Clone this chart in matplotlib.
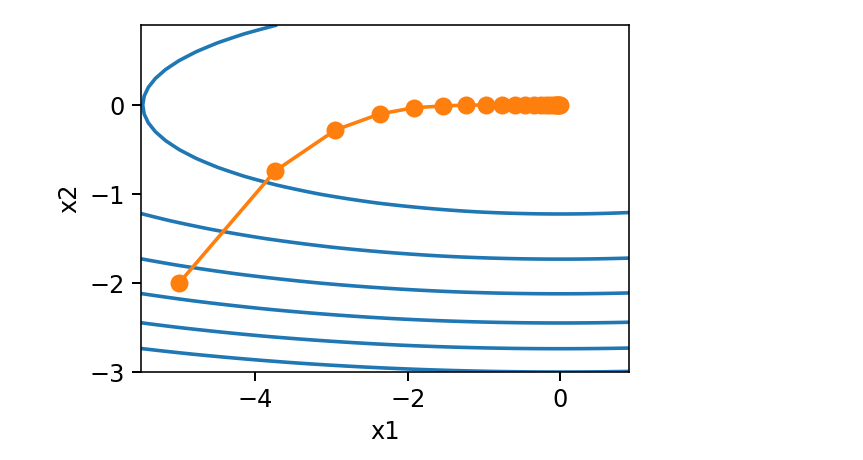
import numpy as np
import matplotlib
matplotlib.use('Agg')
import matplotlib.pyplot as plt

# trajectory points
x1_path = [-5.0, -3.74, -2.95, -2.37, -1.92, -1.54, -1.24, -0.98, -0.77, -0.60,
           -0.46, -0.35, -0.26, -0.19, -0.13, -0.09, -0.06, -0.04, -0.03, -0.02, -0.01]
x2_path = [-2.0, -0.74, -0.28, -0.10, -0.03, -0.01, 0.0, 0.0, 0.0, 0.0,
           0.0, 0.0, 0.0, 0.0, 0.0, 0.0, 0.0, 0.0, 0.0, 0.0, 0.0]

# objective surface for the contour: 0.1*x1^2 + 2*x2^2
coef_x1 = 0.1
coef_x2 = 2.0
levels = [3, 6, 9, 12, 15, 18]

x1g, x2g = np.meshgrid(np.arange(-5.5, 1.0, 0.1), np.arange(-3.0, 1.0, 0.1))
fg = coef_x1 * x1g ** 2 + coef_x2 * x2g ** 2

plt.rcParams['font.size'] = 12

dpi = 144
fig = plt.figure(figsize=(863 / dpi, 460 / dpi), dpi=dpi)
ax = fig.add_axes([141 / 863, 1 - 372 / 460, (629 - 141) / 863, (372 - 25) / 460])

ax.contour(x1g, x2g, fg, levels=levels, colors='#1f77b4', linewidths=1.8)
ax.plot(x1_path, x2_path, '-o', color='#ff7f0e', markersize=8, linewidth=1.8)

ax.set_xlim(-5.5, 0.9)
ax.set_ylim(-3.0, 0.9)
ax.set_xticks([-4, -2, 0])
ax.set_yticks([-3, -2, -1, 0])
ax.tick_params(length=4.5, width=1)
ax.set_xlabel('x1')
ax.set_ylabel('x2')

fig.savefig('out.png', dpi=dpi)
